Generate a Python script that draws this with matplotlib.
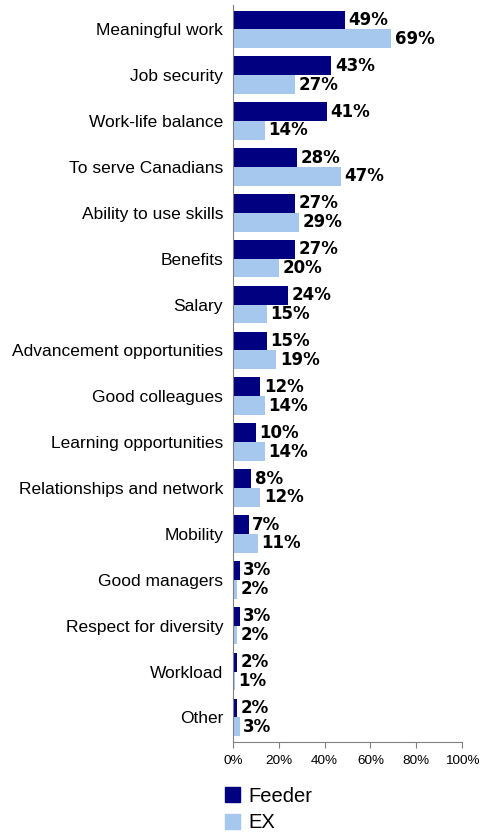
import numpy as np
import matplotlib.pyplot as plt
from matplotlib.patches import Patch

plt.rcParams['font.family'] = ['Liberation Sans', 'DejaVu Sans']

# data
categories = ["Meaningful work", "Job security", "Work-life balance",
              "To serve Canadians", "Ability to use skills", "Benefits",
              "Salary", "Advancement opportunities", "Good colleagues",
              "Learning opportunities", "Relationships and network",
              "Mobility", "Good managers", "Respect for diversity",
              "Workload", "Other"]
feeder = [49, 43, 41, 28, 27, 27, 24, 15, 12, 10, 8, 7, 3, 3, 2, 2]
ex = [69, 27, 14, 47, 29, 20, 15, 19, 14, 14, 12, 11, 2, 2, 1, 3]
series_names = ["Feeder", "EX"]
x_ticks = [0, 20, 40, 60, 80, 100]

navy = "#000080"
light = "#A6C8EE"

fig = plt.figure(figsize=(4.83, 8.33), dpi=100)
ax = fig.add_axes([0.482, 0.109, 0.475, 0.885])

y = np.arange(len(categories))
h = 0.41
ax.barh(y - h / 2, feeder, height=h, color=navy)
ax.barh(y + h / 2, ex, height=h, color=light)

# value labels
for yi, f, e in zip(y, feeder, ex):
    ax.text(f + 1.5, yi - h / 2, f"{f}%", va="center", ha="left",
            fontsize=12, fontweight="bold", family="DejaVu Sans")
    ax.text(e + 1.5, yi + h / 2, f"{e}%", va="center", ha="left",
            fontsize=12, fontweight="bold", family="DejaVu Sans")

ax.set_xlim(0, 100)
ax.set_ylim(len(categories) - 0.46, -0.53)
ax.set_yticks(y)
ax.set_yticklabels(categories, fontsize=12.5)
ax.tick_params(axis="y", length=0, pad=7)
ax.set_xticks(x_ticks)
ax.set_xticklabels([f"{t}%" for t in x_ticks], fontsize=9.7)
ax.tick_params(axis="x", direction="out", length=4, color="#808080", pad=5)

for s in ["top", "right"]:
    ax.spines[s].set_visible(False)
ax.spines["left"].set_color("#808080")
ax.spines["bottom"].set_color("#808080")

handles = [Patch(color=navy), Patch(color=light)]
fig.legend(handles, series_names, loc="upper left",
           bbox_to_anchor=(0.445, 0.0675), frameon=False,
           fontsize=14.5, handlelength=0.75, handleheight=0.75,
           handletextpad=0.4, labelspacing=0.38, borderpad=0)

fig.savefig("out.png", dpi=100)
